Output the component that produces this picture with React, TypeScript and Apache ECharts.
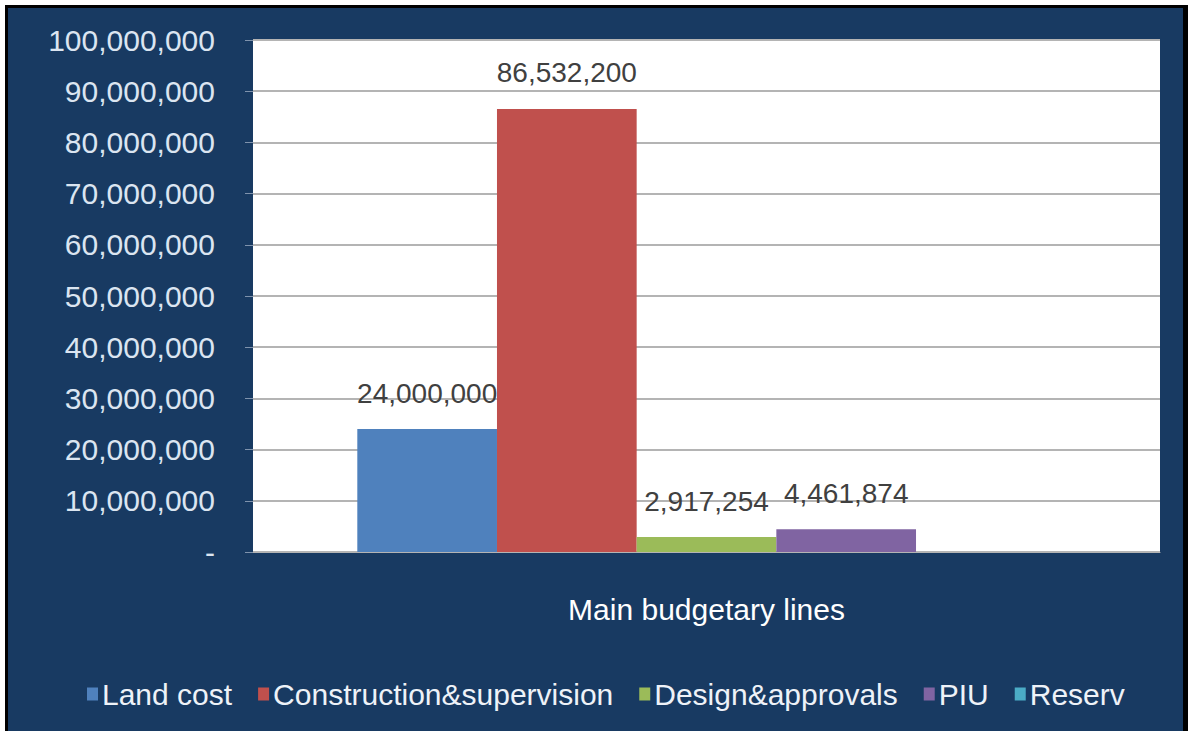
import React, { useEffect, useRef } from "react";
import * as echarts from "echarts";

const categories = ["Main budgetary lines"];
const seriesNames = ["Land cost", "Construction&supervision", "Design&approvals", "PIU", "Reserv"];
const seriesValues = [24000000, 86532200, 2917254, 4461874, 0];
const seriesColors = ["#4f81bd", "#c0504d", "#9bbb59", "#8064a2", "#4bacc6"];
const showValueLabel = [true, true, true, true, false];

const FONT = "'Liberation Sans', Arial, sans-serif";

export default function App() {
  const ref = useRef<HTMLDivElement>(null);
  useEffect(() => {
    document.body.style.margin = "0";
    const chart = echarts.init(ref.current!, null, { renderer: "svg" });
    chart.setOption({
      animation: false,
      backgroundColor: "#183a62",
      textStyle: { fontFamily: FONT },
      graphic: [
        { type: "rect", shape: { x: 0, y: 0, width: 1188, height: 5 }, style: { fill: "#ffffff" } },
        { type: "rect", shape: { x: 0, y: 0, width: 5, height: 731 }, style: { fill: "#ffffff" } },
        { type: "rect", shape: { x: 5, y: 5, width: 1183, height: 3 }, style: { fill: "#000000" } },
        { type: "rect", shape: { x: 5, y: 5, width: 3, height: 726 }, style: { fill: "#000000" } },
        { type: "rect", shape: { x: 1183, y: 5, width: 5, height: 726 }, style: { fill: "#000000" } },
      ],
      grid: {
        left: 253,
        top: 40,
        right: 28,
        bottom: 179,
        show: true,
        backgroundColor: "#ffffff",
        borderWidth: 0,
      },
      legend: {
        left: 82,
        top: 674,
        itemWidth: 11,
        itemHeight: 13,
        itemGap: 26,
        icon: "rect",
        textStyle: { color: "#eef2f8", fontSize: 30, fontFamily: FONT, padding: [0, 0, 0, -1] },
        data: seriesNames,
      },
      xAxis: {
        type: "category",
        data: categories,
        axisLine: { show: true, lineStyle: { color: "#b4b4b4", width: 1 } },
        axisTick: { show: false },
        axisLabel: { color: "#ffffff", fontSize: 30, margin: 42, fontFamily: FONT },
      },
      yAxis: {
        type: "value",
        min: 0,
        max: 100000000,
        interval: 10000000,
        axisLine: { show: false },
        axisTick: { show: true, length: 8, lineStyle: { color: "#7f93ad" } },
        splitLine: { lineStyle: { color: "#b4b4b4", width: 2 } },
        axisLabel: {
          color: "#dbe5f1",
          fontSize: 30,
          margin: 38,
          fontFamily: FONT,
          formatter: (v: number) => (v === 0 ? "-" : v.toLocaleString("en-US")),
        },
      },
      series: seriesNames.map((name, i) => ({
        name,
        type: "bar",
        data: [seriesValues[i]],
        barGap: "0%",
        barCategoryGap: "23%",
        itemStyle: { color: seriesColors[i] },
        label: {
          show: showValueLabel[i],
          position: "top",
          distance: 22,
          color: "#404040",
          fontSize: 28,
          fontFamily: FONT,
          formatter: (p: any) => Number(p.value).toLocaleString("en-US"),
        },
      })),
    });
    return () => chart.dispose();
  }, []);
  return <div ref={ref} style={{ width: 1188, height: 731 }} />;
}
